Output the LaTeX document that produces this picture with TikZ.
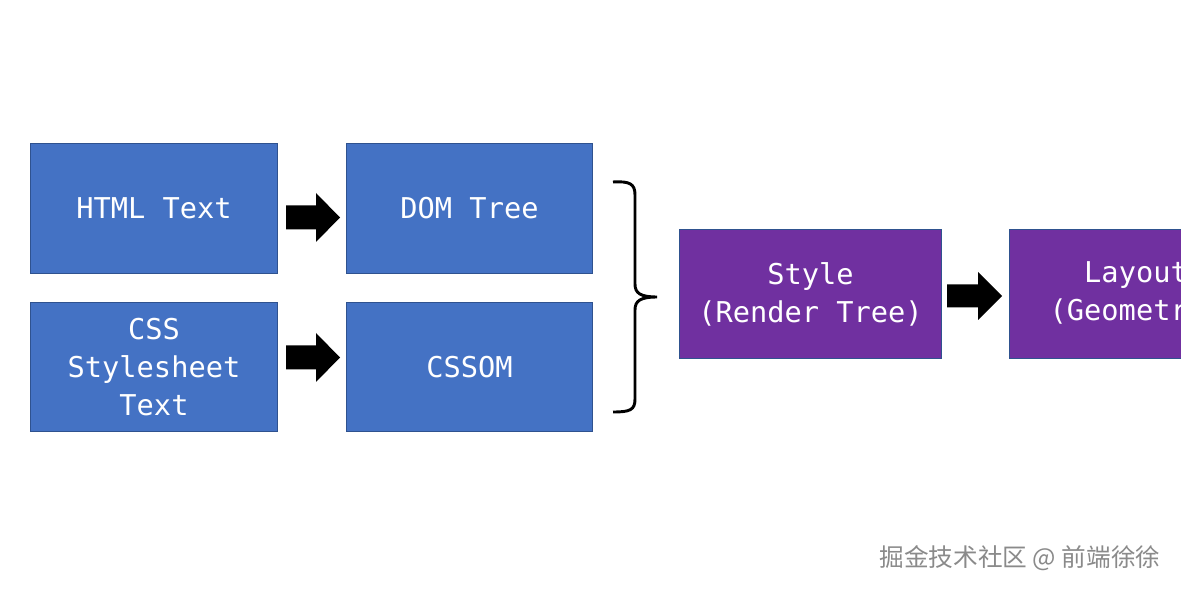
\documentclass[tikz,border=0pt]{standalone}
\usepackage{fontspec}
\setmonofont{DejaVu Sans Mono}
\newfontfamily\cjk{Noto Sans CJK SC}
\definecolor{boxblue}{HTML}{4472C4}
\definecolor{boxedge}{HTML}{2F528F}
\definecolor{boxpurple}{HTML}{7030A0}
\definecolor{wmgray}{HTML}{8A8A8A}
\begin{document}
\begin{tikzpicture}[x=0.75pt,y=-0.75pt,
  box/.style={draw=boxedge, line width=0.75pt, inner sep=0pt, align=center,
    text=white, font=\ttfamily\fontsize{21.5pt}{28.5pt}\selectfont,
    minimum width=185pt, minimum height=97pt},
  bluebox/.style={box, fill=boxblue},
  purplebox/.style={box, fill=boxpurple, minimum width=196pt},
  blockarrow/.style={fill=black, draw=none},
  bracket/.style={draw=black, line width=2.2pt}]
\useasboundingbox (0,0) rectangle (1181,591);
\clip (0,0) rectangle (1181,591);
\fill[white] (0,0) rectangle (1181,591);

\node[bluebox] (html) at (154,208.5) {HTML Text};
\node[bluebox] (css) at (154,367) {CSS\\Stylesheet\\Text};
\node[bluebox] (dom) at (469.5,208.5) {DOM Tree};
\node[bluebox] (cssom) at (469.5,367) {CSSOM};
\node[purplebox] (style) at (810.5,294) {Style\\(Render Tree)};
\node[purplebox, minimum width=190pt] (layout) at (1136,294) {Layout\\(Geometry)};

% block arrows
\fill[blockarrow] (286,205.5) -- (316,205.5) -- (316,193) -- (340,217.5) -- (316,242) -- (316,229.5) -- (286,229.5) -- cycle;
\fill[blockarrow] (286,345.5) -- (316,345.5) -- (316,333) -- (340,357.5) -- (316,382) -- (316,369.5) -- (286,369.5) -- cycle;
\fill[blockarrow] (947,284.5) -- (978,284.5) -- (978,272) -- (1002,296) -- (978,320) -- (978,307.5) -- (947,307.5) -- cycle;

% brace
\draw[bracket] (613,182) .. controls (630,181) and (635,184) .. (635,195) -- (635,284)
  .. controls (635,293) and (640,297) .. (657,297)
  .. controls (640,297) and (635,301) .. (635,310) -- (635,399)
  .. controls (635,410) and (630,412) .. (613,412);

% watermark
\node[text=white, font=\cjk\fontsize{18.5pt}{20pt}\selectfont] (wmshadow) at (1021,559) {掘金技术社区 @ 前端徐徐};
\node[text=wmgray, font=\cjk\fontsize{18.5pt}{20pt}\selectfont] (wm) at (1020,558) {掘金技术社区 @ 前端徐徐};
\end{tikzpicture}
\end{document}
